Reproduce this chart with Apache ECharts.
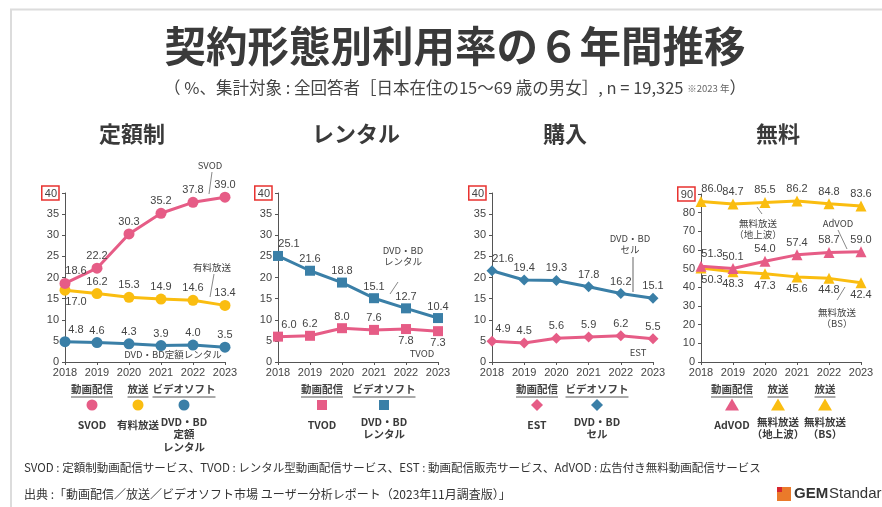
<!DOCTYPE html>
<html>
<head>
<meta charset="utf-8">
<script src="https://cdn.jsdelivr.net/npm/echarts@6/dist/echarts.min.js"></script>
<style>
html, body { margin: 0; padding: 0; background: #fff; }
#main { width: 882px; height: 507px; }
</style>
</head>
<body>
<div id="main"></div>
<script>
// values
var years = ['2018', '2019', '2020', '2021', '2022', '2023'];
var svod = [18.6, 22.2, 30.3, 35.2, 37.8, 39.0];
var paidBroadcast = [17.0, 16.2, 15.3, 14.9, 14.6, 13.4];
var dvdSubscription = [4.8, 4.6, 4.3, 3.9, 4.0, 3.5];
var tvod = [6.0, 6.2, 8.0, 7.6, 7.8, 7.3];
var dvdRental = [25.1, 21.6, 18.8, 15.1, 12.7, 10.4];
var est = [4.9, 4.5, 5.6, 5.9, 6.2, 5.5];
var dvdSell = [21.6, 19.4, 19.3, 17.8, 16.2, 15.1];
var advod = [51.3, 50.1, 54.0, 57.4, 58.7, 59.0];
var freeTerrestrial = [86.0, 84.7, 85.5, 86.2, 84.8, 83.6];
var freeBs = [50.3, 48.3, 47.3, 45.6, 44.8, 42.4];
var panelTitles = ['定額制', 'レンタル', '購入', '無料'];
var yMax = [40, 40, 40, 90];
var yStep = [5, 5, 5, 10];

var PINK = '#e65c86';
var YELLOW = '#fabd10';
var BLUE = '#3a7fa7';
var TXT = '#444';
var JP = '"Noto Sans CJK JP", sans-serif';
var NUM = '"Liberation Sans", Arial, sans-serif';

var grids = [
    {left: 65, top: 193, width: 160, height: 169},
    {left: 278, top: 193, width: 160, height: 169},
    {left: 492, top: 193, width: 161, height: 169},
    {left: 701, top: 194, width: 160, height: 168}
];

var measureCtx = document.createElement('canvas').getContext('2d');
function textWidth(t, font) {
    measureCtx.font = font;
    return measureCtx.measureText(t).width;
}

function makeSeries(idx, values, color, symbol, size, pos) {
    return {
        type: 'line',
        xAxisIndex: idx,
        yAxisIndex: idx,
        data: values.map(function (v, i) {
            var p = typeof pos === 'string' ? pos : pos[i];
            return {value: v, label: {position: p, offset: i === 0 ? [11, 0] : [0, 0]}};
        }),
        symbol: symbol,
        symbolSize: size,
        lineStyle: {color: color, width: 3},
        itemStyle: {color: color},
        label: {
            show: true,
            distance: 1,
            fontSize: 11,
            color: TXT,
            fontFamily: NUM,
            formatter: function (p) { return p.value.toFixed(1); }
        },
        emphasis: {disabled: true},
        animation: false
    };
}

var xAxes = grids.map(function (g, i) {
    return {
        type: 'category',
        gridIndex: i,
        data: years,
        boundaryGap: false,
        axisLine: {lineStyle: {color: '#555', width: 1}},
        axisTick: {show: true, length: 3, lineStyle: {color: '#555'}},
        axisLabel: {fontSize: 11, color: TXT, fontFamily: NUM, margin: 5, interval: 0}
    };
});

var yAxes = grids.map(function (g, i) {
    return {
        type: 'value',
        gridIndex: i,
        min: 0,
        max: yMax[i],
        interval: yStep[i],
        axisLine: {show: true, lineStyle: {color: '#555', width: 1}},
        axisTick: {show: true, length: 3, lineStyle: {color: '#555'}},
        splitLine: {show: false},
        axisLabel: {
            fontSize: 11,
            color: TXT,
            fontFamily: NUM,
            margin: 6,
            formatter: function (v) {
                return v === yMax[i] ? '{box|' + v + '}' : String(v);
            },
            rich: {
                box: {
                    fontSize: 11, color: TXT, fontFamily: NUM,
                    borderColor: '#e8322f', borderWidth: 1.5, padding: [2, 2, 1, 3]
                }
            }
        }
    };
});

var series = [
    makeSeries(0, paidBroadcast, YELLOW, 'circle', 11, ['bottom', 'top', 'top', 'top', 'top', 'top']),
    makeSeries(0, svod, PINK, 'circle', 11, 'top'),
    makeSeries(0, dvdSubscription, BLUE, 'circle', 11, 'top'),
    makeSeries(1, tvod, PINK, 'rect', 10, ['top', 'top', 'top', 'top', 'bottom', 'bottom']),
    makeSeries(1, dvdRental, BLUE, 'rect', 10, 'top'),
    makeSeries(2, est, PINK, 'diamond', 11, 'top'),
    makeSeries(2, dvdSell, BLUE, 'diamond', 11, 'top'),
    makeSeries(3, freeTerrestrial, YELLOW, 'triangle', 11, 'top'),
    makeSeries(3, freeBs, YELLOW, 'triangle', 11, 'bottom'),
    makeSeries(3, advod, PINK, 'triangle', 11, 'top')
];

var graphics = [];
function txt(t, x, y, size, opts) {
    opts = opts || {};
    graphics.push({
        type: 'text',
        silent: true,
        style: {
            text: t, x: x, y: y,
            fill: opts.color || TXT,
            fontSize: size,
            fontWeight: opts.weight || 'normal',
            fontFamily: opts.family || JP,
            align: opts.align || 'center',
            verticalAlign: 'middle',
            lineHeight: opts.lineHeight,
            rich: opts.rich
        }
    });
}
function seg(x1, y1, x2, y2, color, w) {
    graphics.push({
        type: 'line', silent: true,
        shape: {x1: x1, y1: y1, x2: x2, y2: y2},
        style: {stroke: color || '#888', lineWidth: w || 1}
    });
}

// frame
seg(10, 9.5, 882, 9.5, '#dcdcdc', 2);
seg(11, 9, 11, 507, '#dcdcdc', 2);

// titles
txt('契約形態別利用率の６年間推移', 455, 46, 41.5, {weight: 'bold', color: '#3a3a3a'});
txt('（ %、集計対象 : 全回答者［日本在住の15～69 歳の男女］, n = 19,325 {s|※2023 年}）', 455, 88, 16.5, {
    color: '#444',
    rich: {s: {fontSize: 9.5, fill: '#666', fontFamily: JP}}
});
var titleX = [132, 356, 565, 778];
panelTitles.forEach(function (t, i) {
    txt(t, titleX[i], 134, 22, {weight: 'bold', color: '#3a3a3a'});
});

// series notes with leader lines
txt('SVOD', 210, 165, 9.5);
seg(212, 172, 209, 194);
txt('有料放送', 212, 267, 9.5);
seg(214, 274, 210, 297);
txt('DVD・BD定額レンタル', 173, 354, 9.5);

txt('DVD・BD', 403, 250, 9.5);
txt('レンタル', 403, 261, 9.5);
seg(398, 282, 390, 294);
txt('TVOD', 422, 353, 9.5);

txt('DVD・BD', 630, 238, 9.5);
txt('セル', 630, 249, 9.5);
seg(633, 257, 633, 292, '#999', 1.5);
txt('EST', 638, 352, 9.5);

txt('無料放送', 758, 223, 9.5);
txt('（地上波）', 758, 234, 9.5);
seg(757, 207, 762, 214);
txt('AdVOD', 838, 223, 9.5);
seg(838, 230, 847, 249);
txt('無料放送', 837, 312, 9.5);
txt('（BS）', 837, 323, 9.5);
seg(845, 287, 837, 300);

// legend blocks
function header(t, x) {
    var font = 'bold 10.5px "Noto Sans CJK JP"';
    var w = textWidth(t, font);
    txt(t, x, 389, 10.5, {weight: 'bold'});
    seg(x - w / 2, 397, x + w / 2, 397, '#555', 1);
}
function marker(kind, x, y, color) {
    var shape;
    if (kind === 'circle') {
        graphics.push({type: 'circle', silent: true, shape: {cx: x, cy: y, r: 5.5}, style: {fill: color}});
    } else if (kind === 'rect') {
        graphics.push({type: 'rect', silent: true, shape: {x: x - 5, y: y - 5, width: 10, height: 10}, style: {fill: color}});
    } else if (kind === 'diamond') {
        shape = [[x, y - 6], [x + 6, y], [x, y + 6], [x - 6, y]];
        graphics.push({type: 'polygon', silent: true, shape: {points: shape}, style: {fill: color}});
    } else {
        shape = [[x, y - 6.5], [x + 7, y + 5.5], [x - 7, y + 5.5]];
        graphics.push({type: 'polygon', silent: true, shape: {points: shape}, style: {fill: color}});
    }
}
function legendItem(head, kind, color, x, lines) {
    header(head, x);
    marker(kind, x, 405, color);
    lines.forEach(function (l, k) {
        txt(l, x, (lines.length > 1 ? 422 : 425) + k * 12.5, 10.5, {weight: 'bold', color: '#3a3a3a'});
    });
}
legendItem('動画配信', 'circle', PINK, 92, ['SVOD']);
legendItem('放送', 'circle', YELLOW, 138, ['有料放送']);
legendItem('ビデオソフト', 'circle', BLUE, 184, ['DVD・BD', '定額', 'レンタル']);
legendItem('動画配信', 'rect', PINK, 322, ['TVOD']);
legendItem('ビデオソフト', 'rect', BLUE, 384, ['DVD・BD', 'レンタル']);
legendItem('動画配信', 'diamond', PINK, 537, ['EST']);
legendItem('ビデオソフト', 'diamond', BLUE, 597, ['DVD・BD', 'セル']);
legendItem('動画配信', 'triangle', PINK, 732, ['AdVOD']);
legendItem('放送', 'triangle', YELLOW, 778, ['無料放送', '（地上波）']);
legendItem('放送', 'triangle', YELLOW, 825, ['無料放送', '（BS）']);

// footer
txt('SVOD : 定額制動画配信サービス、TVOD : レンタル型動画配信サービス、EST : 動画配信販売サービス、AdVOD : 広告付き無料動画配信サービス',
    24, 468, 11.5, {align: 'left', color: '#333'});
txt('出典 :「動画配信／放送／ビデオソフト市場 ユーザー分析レポート（2023年11月調査版）」',
    24, 494, 12, {align: 'left', color: '#333'});

// logo
graphics.push({type: 'rect', silent: true, shape: {x: 777, y: 487, width: 14, height: 14}, style: {fill: '#ea7a2a'}});
graphics.push({type: 'rect', silent: true, shape: {x: 777, y: 487, width: 5, height: 5}, style: {fill: '#d7262e'}});
txt('GEM', 794, 494, 15, {align: 'left', weight: 'bold', color: '#333', family: NUM});
txt('Standard', 829, 494, 15, {align: 'left', color: '#333', family: NUM});

var chart = echarts.init(document.getElementById('main'));
chart.setOption({
    backgroundColor: '#fff',
    animation: false,
    grid: grids,
    xAxis: xAxes,
    yAxis: yAxes,
    series: series,
    graphic: graphics
});
window.onresize = function () {
    chart.resize();
};
</script>
</body>
</html>
